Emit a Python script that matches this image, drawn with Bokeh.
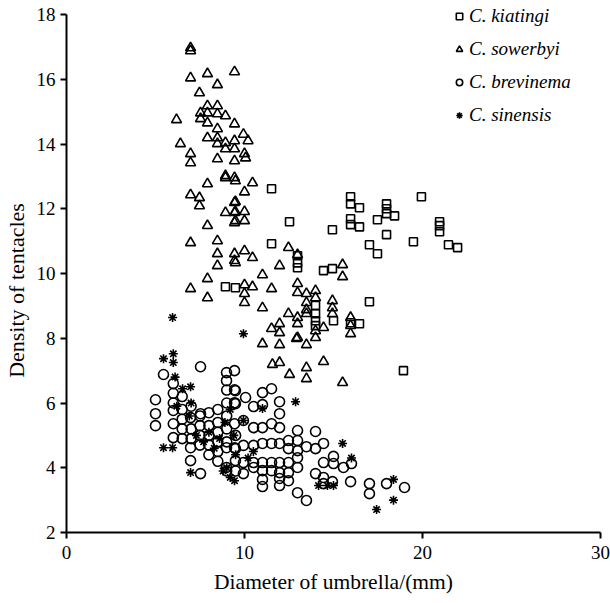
from bokeh.plotting import figure
from bokeh.models import Range1d, FixedTicker, Legend, LegendItem
from bokeh.embed import file_html
from bokeh.resources import INLINE

# ---- data ----
kiatingi_x = [11.52, 12.53, 14.94, 15.96, 15.96, 16.46, 15.96, 15.96, 16.46, 17.47, 17.98, 17.98, 17.98, 18.43,
              17.98, 17.02, 17.47, 19.49, 19.94, 20.96, 20.96, 20.96, 21.46, 21.97, 11.52, 12.98, 12.98, 12.98,
              14.44, 14.94, 9.49, 8.93, 17.02, 13.99, 13.99, 13.99, 13.99, 15.0, 15.96, 16.46, 18.93]
kiatingi_y = [12.62, 11.60, 11.35, 12.37, 12.15, 12.03, 11.69, 11.51, 11.44, 11.66, 12.15, 12.0, 11.85, 11.78,
              11.20, 10.89, 10.61, 10.98, 12.37, 11.60, 11.48, 11.29, 10.89, 10.80, 10.92, 10.55, 10.33, 10.18,
              10.09, 10.15, 9.56, 9.59, 9.13, 9.01, 8.76, 8.54, 8.39, 8.54, 8.48, 8.45, 7.0]

sowerbyi_x = [6.97, 6.97, 6.97, 7.92, 9.44, 8.48, 7.47, 7.92, 8.48, 7.53, 7.53, 7.92, 8.48, 8.93, 6.18, 7.92,
              8.48, 9.44, 7.92, 8.48, 8.48, 8.93, 8.93, 9.44, 9.44, 6.4, 6.97, 6.97, 8.48, 9.44, 8.93, 9.44,
              10.06, 9.49, 10.45, 10.0, 9.49, 9.49, 10.0, 9.49, 10.0, 9.94, 10.2, 10.0,
              7.92, 8.93, 6.97, 7.47, 7.47, 9.44, 8.93, 9.44, 9.44, 7.92, 6.97, 8.48, 8.48, 8.48, 9.44, 9.44,
              7.92, 6.97, 7.92,
              10.0, 10.45, 9.49, 12.47, 12.98, 11.97, 15.51, 15.51, 11.01, 10.0, 10.45, 10.0, 10.0, 11.52,
              12.98, 12.98, 13.48, 13.48, 13.99, 13.99, 14.94, 14.94, 14.94, 11.01, 12.47, 12.98, 12.98,
              13.48, 13.48, 13.99, 13.99, 14.44, 11.97, 11.97, 11.52, 15.96, 15.96, 15.96, 12.92, 11.01,
              11.97, 13.48, 12.98, 11.57, 11.97, 13.48, 13.48, 12.53, 14.44, 15.51]
sowerbyi_y = [16.97, 16.88, 16.04, 16.17, 16.23, 15.83, 15.58, 15.18, 15.18, 14.96, 14.78, 14.96, 14.93, 14.87,
              14.75, 14.65, 14.47, 14.62, 14.19, 14.19, 14.01, 14.04, 13.85, 14.10, 13.85, 14.01, 13.70, 13.42,
              13.54, 13.48, 13.02, 12.96,
              13.57, 12.86, 12.80, 12.52, 12.22, 11.91, 11.91, 11.63, 11.63, 14.3, 14.1, 13.7,
              12.77, 12.96, 12.43, 12.34, 12.09, 12.19, 11.88, 11.88, 11.57, 11.48, 10.95, 11.01, 10.61, 10.24,
              10.61, 10.40, 9.84, 9.53, 9.25,
              10.70, 10.49, 10.33, 10.80, 10.58, 10.24, 10.27, 9.90, 9.96, 9.65, 9.59, 9.38, 9.10, 9.53,
              9.69, 9.41, 9.38, 9.10, 9.47, 9.25, 9.16, 8.94, 8.76, 8.94, 8.76, 8.64, 8.45,
              8.88, 8.76, 8.02, 8.23, 8.33, 8.45, 8.17, 8.30, 8.64, 8.39, 8.14, 7.99, 7.83,
              7.80, 7.80, 8.02, 7.19, 7.25, 7.09, 6.75, 6.88, 7.28, 6.63]

brevinema_x = [5.0, 5.0, 5.0, 5.45, 7.53, 8.99, 8.99, 9.44, 9.44, 9.44, 9.44, 7.53, 6.97, 6.0, 6.0, 6.0, 6.97,
               6.97, 7.53, 8.99, 8.99, 9.44,
               9.49, 10.06, 9.49, 11.01, 11.52, 11.97, 11.97, 11.01, 10.51, 9.94, 10.51, 11.01, 11.52, 11.97,
               12.98, 13.99, 14.44, 13.99, 13.48, 12.98, 12.47, 12.47, 12.98, 11.97, 11.52, 11.01, 10.51, 9.94,
               9.49, 9.49, 9.94, 10.51, 11.01, 11.52, 11.97, 12.47, 12.98, 12.98, 12.47, 11.97, 11.52, 11.01,
               10.51, 9.94, 11.01, 11.01, 11.97, 11.97, 12.47, 12.98, 13.48, 13.99, 14.44, 14.44, 15.0, 15.0,
               14.44, 15.56, 16.01, 15.96, 17.02, 17.02, 17.98, 14.94, 18.99,
               6.0, 6.0, 6.0, 6.5, 6.5, 6.5, 6.5, 6.5, 7.0, 7.0, 7.0, 7.5, 7.5, 7.5, 7.5,
               8.0, 8.0, 8.0, 8.0, 8.0, 8.5, 8.5, 8.5, 8.5, 8.5, 8.5, 9.0, 9.0, 9.0, 9.0, 9.0, 9.0, 9.5, 9.5]
brevinema_y = [6.10, 5.67, 5.30, 6.88, 7.12, 6.94, 6.69, 7.0, 6.41, 6.01, 5.36, 5.67, 5.55, 5.77, 5.36, 4.93, 4.62,
               4.22, 3.82, 4.62, 4.01, 4.62,
               6.38, 6.17, 5.98, 6.32, 6.44, 6.04, 5.67, 5.95, 5.89, 5.46, 5.24, 5.24, 5.36, 5.24,
               5.15, 5.12, 4.75, 4.59, 4.65, 4.84, 4.84, 4.59, 4.53, 4.75, 4.75, 4.75, 4.69, 4.69,
               4.59, 4.22, 4.16, 4.16, 4.16, 4.16, 4.16, 4.16, 4.01, 4.31, 3.85, 3.85, 3.91, 3.91,
               4.01, 3.82, 3.64, 3.42, 3.67, 3.45, 3.60, 3.23, 2.99, 3.82, 3.70, 3.51, 4.35, 4.13,
               4.16, 4.01, 4.13, 3.57, 3.51, 3.20, 3.51, 3.57, 3.39,
               6.6, 6.3, 6.0, 6.2, 5.8, 5.5, 5.2, 4.9, 5.9, 5.2, 4.9, 5.6, 5.3, 5.0, 4.7,
               5.7, 5.3, 5.0, 4.7, 4.4, 5.8, 5.4, 5.1, 4.8, 4.5, 4.2, 6.4, 6.0, 5.6, 5.2, 4.8, 3.9, 5.0, 3.9]

sinensis_x = [5.96, 5.45, 6.0, 6.0, 6.97, 6.52, 5.45, 5.96, 6.97, 9.44, 9.94, 11.01, 9.94, 12.87, 15.51, 16.01,
              14.16, 14.66, 15.0, 18.37, 18.37, 17.42,
              6.1, 6.2, 6.9, 7.3, 7.7, 8.0, 8.3, 8.6, 8.9, 9.2, 9.4, 9.5, 9.2, 8.8, 9.0, 7.0, 10.2, 10.5]
sinensis_y = [8.64, 7.37, 7.52, 7.25, 6.5, 6.44, 4.62, 4.62, 3.85, 3.6, 8.14, 5.83, 5.46, 6.04, 4.75, 4.3,
              3.45, 3.45, 3.45, 3.64, 3.0, 2.71,
              6.8, 5.9, 5.6, 5.0, 4.8, 5.1, 4.6, 4.9, 5.4, 5.8, 5.0, 4.4, 3.7, 3.9, 4.0, 6.0, 4.3, 4.5]

series_labels = ["C. kiatingi", "C. sowerbyi", "C. brevinema", "C. sinensis"]
x_ticks = [0, 10, 20, 30]
y_ticks = [2, 4, 6, 8, 10, 12, 14, 16, 18]

SERIF = "Liberation Serif"

# frame extends a little above y=18 so the legend (which sits at the very top) is not clipped;
# the y axis itself is bounded to 2..18
p = figure(width=610, height=603, output_backend="svg", toolbar_location=None,
           x_range=Range1d(0, 30), y_range=Range1d(2, 18.31),
           min_border_left=66, min_border_right=10, min_border_top=4, min_border_bottom=71)
p.outline_line_color = None
p.grid.visible = False
p.background_fill_color = "white"

common = dict(line_color="black", fill_color=None, line_width=1.6)
r1 = p.scatter(kiatingi_x, kiatingi_y, marker="square", size=8, **common)
r2 = p.scatter(sowerbyi_x, sowerbyi_y, marker="triangle", size=10, **common)
r3 = p.scatter(brevinema_x, brevinema_y, marker="circle", size=10, **common)
r4 = p.scatter(sinensis_x, sinensis_y, marker="asterisk", size=9, line_color="black", line_width=1.6)

for ax in (p.xaxis[0], p.yaxis[0]):
    ax.axis_line_width = 2
    ax.major_tick_line_width = 2
    ax.major_tick_out = 6
    ax.major_tick_in = 0
    ax.minor_tick_line_color = None
    ax.major_label_text_font = SERIF
    ax.major_label_text_font_size = "19px"
    ax.major_label_text_color = "black"
    ax.axis_label_text_font = SERIF
    ax.axis_label_text_font_style = "normal"
    ax.axis_label_text_color = "black"

p.yaxis.bounds = (2, 18)
p.xaxis.axis_label_text_font_size = "21.5px"
p.yaxis.axis_label_text_font_size = "22px"
p.xaxis.ticker = FixedTicker(ticks=x_ticks)
p.yaxis.ticker = FixedTicker(ticks=y_ticks)
p.xaxis.axis_label = "Diameter of umbrella/(mm)"
p.yaxis.axis_label = "Density of tentacles" + "\u00a0" * 8
p.xaxis.major_label_standoff = 7
p.xaxis.axis_label_standoff = 8
p.yaxis.major_label_standoff = 5
p.yaxis.axis_label_standoff = 5

legend = Legend(items=[LegendItem(label=series_labels[i], renderers=[r]) for i, r in enumerate([r1, r2, r3, r4])],
                location=(385, 406))
legend.border_line_color = None
legend.background_fill_alpha = 0
legend.padding = 0
legend.margin = 0
legend.spacing = 11
legend.glyph_width = 16
legend.glyph_height = 22
legend.label_height = 22
legend.label_standoff = 2
legend.label_text_font = SERIF
legend.label_text_font_style = "italic"
legend.label_text_font_size = "19px"
legend.label_text_color = "black"
p.add_layout(legend)

open("out.html", "w").write(file_html(p, INLINE))
